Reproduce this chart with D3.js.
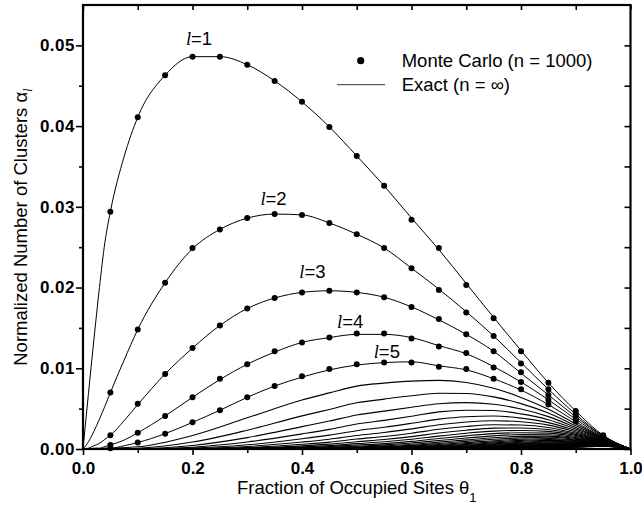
<!DOCTYPE html>
<html>
<head>
<meta charset="utf-8">
<script src="https://cdn.jsdelivr.net/npm/d3@7"></script>
<style>
  body { margin: 0; background: #fff; }
  svg { display: block; }
  .tick text { font-family: "Liberation Sans", Arial, sans-serif; font-weight: bold; font-size: 17px; letter-spacing: 0.5px; fill: #000; }
  .title { font-family: "Liberation Sans", Arial, sans-serif; font-size: 18.5px; fill: #000; }
  .script { font-family: "Liberation Serif", "Times New Roman", serif; font-style: italic; }
</style>
</head>
<body>
<svg id="chart"></svg>
<script>
// theta grid for l = 1..5 (exact curves)
var thetaFine = [0, 0.01, 0.02, 0.03, 0.04, 0.05, 0.075, 0.1, 0.15, 0.2, 0.25, 0.3, 0.35, 0.4, 0.45, 0.5,
                 0.55, 0.6, 0.65, 0.7, 0.75, 0.8, 0.85, 0.9, 0.95, 1];
var exactL1 = [0, 0.0069, 0.0136, 0.0200, 0.0256, 0.0294, 0.0362, 0.0411, 0.0463, 0.0486, 0.0486, 0.0476, 0.0456,
               0.0430, 0.0399, 0.0363, 0.0326, 0.0286, 0.0247, 0.0205, 0.0163, 0.0122, 0.0082, 0.0047, 0.0017, 0];
var exactL2 = [0, 0.0009, 0.0022, 0.0037, 0.0053, 0.0070, 0.0110, 0.0148, 0.0206, 0.0248, 0.0272, 0.0286, 0.0291,
               0.0290, 0.0280, 0.0266, 0.0249, 0.0224, 0.0198, 0.0170, 0.0140, 0.0107, 0.0074, 0.0043, 0.0016, 0];
var exactL3 = [0, 0.0001, 0.0004, 0.0007, 0.0012, 0.0017, 0.0035, 0.0055, 0.0093, 0.0125, 0.0153, 0.0174, 0.0187,
               0.0194, 0.0196, 0.0194, 0.0188, 0.0176, 0.0160, 0.0142, 0.0121, 0.0094, 0.0067, 0.0040, 0.0016, 0];
var exactL4 = [0, 0, 0.0001, 0.0001, 0.0003, 0.0005, 0.0011, 0.0020, 0.0041, 0.0064, 0.0086, 0.0105, 0.0120,
               0.0132, 0.0138, 0.0142, 0.0142, 0.0138, 0.0128, 0.0118, 0.0102, 0.0083, 0.0061, 0.0037, 0.0015, 0];
var exactL5 = [0, 0, 0, 0, 0.0001, 0.0001, 0.0004, 0.0008, 0.0019, 0.0033, 0.0048, 0.0064, 0.0078,
               0.0089, 0.0098, 0.0104, 0.0107, 0.0108, 0.0103, 0.0098, 0.0087, 0.0073, 0.0055, 0.0034, 0.0014, 0];

// theta grid for the unlabelled curves l = 6..40
var thetaCoarse = [0, 0.1, 0.2, 0.3, 0.4, 0.45, 0.5, 0.55, 0.6, 0.65, 0.7, 0.75, 0.8, 0.85, 0.9, 0.95, 1];
var exactL6to40 = [
  [0, 0.00027, 0.00168, 0.00386, 0.00607, 0.00695, 0.00779, 0.00816, 0.00841, 0.00850, 0.00824, 0.00753, 0.00639, 0.00492, 0.00312, 0.00139, 0],
  [0, 0.00010, 0.00086, 0.00233, 0.00410, 0.00490, 0.00572, 0.00618, 0.00660, 0.00690, 0.00688, 0.00646, 0.00562, 0.00445, 0.00288, 0.00133, 0],
  [0, 0.00004, 0.00044, 0.00141, 0.00277, 0.00346, 0.00421, 0.00469, 0.00517, 0.00560, 0.00574, 0.00555, 0.00495, 0.00401, 0.00267, 0.00128, 0],
  [0, 0.00001, 0.00022, 0.00086, 0.00187, 0.00243, 0.00309, 0.00355, 0.00405, 0.00460, 0.00480, 0.00476, 0.00435, 0.00363, 0.00247, 0.00123, 0],
  [0, 0, 0.00011, 0.00052, 0.00127, 0.00172, 0.00227, 0.00269, 0.00318, 0.00370, 0.00400, 0.00408, 0.00383, 0.00327, 0.00228, 0.00118, 0],
  [0, 0, 0.00006, 0.00031, 0.00086, 0.00121, 0.00167, 0.00204, 0.00249, 0.00300, 0.00335, 0.00350, 0.00337, 0.00296, 0.00211, 0.00113, 0],
  [0, 0, 0.00003, 0.00019, 0.00058, 0.00085, 0.00123, 0.00155, 0.00195, 0.00244, 0.00279, 0.00300, 0.00297, 0.00267, 0.00195, 0.00108, 0],
  [0, 0, 0.00001, 0.00011, 0.00039, 0.00060, 0.00090, 0.00117, 0.00153, 0.00198, 0.00233, 0.00258, 0.00261, 0.00241, 0.00181, 0.00104, 0],
  [0, 0, 0, 0.00007, 0.00026, 0.00042, 0.00066, 0.00089, 0.00120, 0.00160, 0.00195, 0.00221, 0.00230, 0.00218, 0.00167, 0.00100, 0],
  [0, 0, 0, 0.00004, 0.00018, 0.00030, 0.00049, 0.00067, 0.00094, 0.00130, 0.00163, 0.00190, 0.00202, 0.00197, 0.00154, 0.00096, 0],
  [0, 0, 0, 0.00003, 0.00012, 0.00021, 0.00036, 0.00051, 0.00074, 0.00105, 0.00136, 0.00163, 0.00178, 0.00177, 0.00143, 0.00092, 0],
  [0, 0, 0, 0.00002, 0.00008, 0.00015, 0.00026, 0.00039, 0.00058, 0.00085, 0.00113, 0.00140, 0.00156, 0.00160, 0.00132, 0.00088, 0],
  [0, 0, 0, 0.00001, 0.00006, 0.00010, 0.00019, 0.00029, 0.00045, 0.00069, 0.00095, 0.00120, 0.00138, 0.00145, 0.00122, 0.00085, 0],
  [0, 0, 0, 0, 0.00004, 0.00007, 0.00014, 0.00022, 0.00036, 0.00056, 0.00079, 0.00103, 0.00121, 0.00131, 0.00113, 0.00082, 0],
  [0, 0, 0, 0, 0.00003, 0.00005, 0.00010, 0.00017, 0.00028, 0.00045, 0.00066, 0.00088, 0.00107, 0.00118, 0.00105, 0.00078, 0],
  [0, 0, 0, 0, 0.00002, 0.00004, 0.00008, 0.00013, 0.00022, 0.00037, 0.00055, 0.00076, 0.00094, 0.00107, 0.00097, 0.00075, 0],
  [0, 0, 0, 0, 0.00001, 0.00003, 0.00006, 0.00010, 0.00017, 0.00030, 0.00046, 0.00065, 0.00083, 0.00096, 0.00090, 0.00072, 0],
  [0, 0, 0, 0, 0.00001, 0.00002, 0.00004, 0.00008, 0.00013, 0.00024, 0.00038, 0.00056, 0.00073, 0.00087, 0.00083, 0.00069, 0],
  [0, 0, 0, 0, 0, 0.00001, 0.00003, 0.00006, 0.00010, 0.00020, 0.00032, 0.00048, 0.00064, 0.00078, 0.00077, 0.00067, 0],
  [0, 0, 0, 0, 0, 0, 0.00002, 0.00004, 0.00008, 0.00016, 0.00027, 0.00041, 0.00056, 0.00071, 0.00071, 0.00064, 0],
  [0, 0, 0, 0, 0, 0, 0.00002, 0.00003, 0.00007, 0.00013, 0.00022, 0.00035, 0.00049, 0.00064, 0.00066, 0.00061, 0],
  [0, 0, 0, 0, 0, 0, 0.00001, 0.00002, 0.00005, 0.00010, 0.00019, 0.00030, 0.00044, 0.00058, 0.00061, 0.00059, 0],
  [0, 0, 0, 0, 0, 0, 0.00001, 0.00002, 0.00004, 0.00008, 0.00016, 0.00026, 0.00038, 0.00052, 0.00056, 0.00057, 0],
  [0, 0, 0, 0, 0, 0, 0.00001, 0.00001, 0.00003, 0.00007, 0.00013, 0.00022, 0.00034, 0.00047, 0.00052, 0.00054, 0],
  [0, 0, 0, 0, 0, 0, 0, 0.00001, 0.00002, 0.00005, 0.00011, 0.00019, 0.00030, 0.00043, 0.00048, 0.00052, 0],
  [0, 0, 0, 0, 0, 0, 0, 0.00001, 0.00002, 0.00004, 0.00009, 0.00016, 0.00026, 0.00038, 0.00045, 0.00050, 0],
  [0, 0, 0, 0, 0, 0, 0, 0, 0.00002, 0.00004, 0.00008, 0.00014, 0.00023, 0.00035, 0.00042, 0.00048, 0],
  [0, 0, 0, 0, 0, 0, 0, 0, 0.00001, 0.00003, 0.00006, 0.00012, 0.00020, 0.00031, 0.00039, 0.00046, 0],
  [0, 0, 0, 0, 0, 0, 0, 0, 0.00001, 0.00002, 0.00005, 0.00010, 0.00018, 0.00028, 0.00036, 0.00044, 0],
  [0, 0, 0, 0, 0, 0, 0, 0, 0.00001, 0.00002, 0.00004, 0.00009, 0.00016, 0.00026, 0.00033, 0.00042, 0],
  [0, 0, 0, 0, 0, 0, 0, 0, 0.00001, 0.00002, 0.00004, 0.00008, 0.00014, 0.00023, 0.00031, 0.00041, 0],
  [0, 0, 0, 0, 0, 0, 0, 0, 0, 0.00001, 0.00003, 0.00007, 0.00012, 0.00021, 0.00028, 0.00039, 0],
  [0, 0, 0, 0, 0, 0, 0, 0, 0, 0.00001, 0.00003, 0.00006, 0.00011, 0.00019, 0.00026, 0.00038, 0],
  [0, 0, 0, 0, 0, 0, 0, 0, 0, 0.00001, 0.00002, 0.00005, 0.00009, 0.00017, 0.00024, 0.00036, 0],
  [0, 0, 0, 0, 0, 0, 0, 0, 0, 0.00001, 0.00002, 0.00004, 0.00008, 0.00015, 0.00022, 0.00035, 0]
];

// Monte Carlo points
var mcTheta = [0.05, 0.1, 0.15, 0.2, 0.25, 0.3, 0.35, 0.4, 0.45, 0.5, 0.55, 0.6, 0.65, 0.7, 0.75, 0.8, 0.85, 0.9, 0.95];
var mcL1 = [0.0294, 0.0411, 0.0463, 0.0486, 0.0486, 0.0476, 0.0456, 0.0430, 0.0399, 0.0363, 0.0326, 0.0284, 0.0249, 0.0203, 0.0162, 0.0121, 0.0082, 0.0047, 0.0017];
var mcL2 = [0.0070, 0.0148, 0.0206, 0.0249, 0.0272, 0.0286, 0.0291, 0.0290, 0.0280, 0.0266, 0.0249, 0.0224, 0.0197, 0.0169, 0.0140, 0.0106, 0.0074, 0.0043, 0.0016];
var mcL3 = [0.0017, 0.0056, 0.0093, 0.0125, 0.0153, 0.0174, 0.0187, 0.0194, 0.0196, 0.0194, 0.0188, 0.0176, 0.0161, 0.0142, 0.0121, 0.0095, 0.0067, 0.0040, 0.0016];
var mcL4 = [0.0005, 0.0020, 0.0041, 0.0064, 0.0087, 0.0105, 0.0121, 0.0132, 0.0138, 0.0143, 0.0143, 0.0137, 0.0127, 0.0119, 0.0101, 0.0083, 0.0061, 0.0037, 0.0015];
var mcL5 = [0.0001, 0.0008, 0.0019, 0.0033, 0.0048, 0.0064, 0.0078, 0.0090, 0.0099, 0.0105, 0.0107, 0.0107, 0.0102, 0.0099, 0.0087, 0.0074, 0.0055, 0.0034, 0.0014];

var xTickValues = [0, 0.1, 0.2, 0.3, 0.4, 0.5, 0.6, 0.7, 0.8, 0.9, 1.0];
var xTickLabels = {"0": "0.0", "0.2": "0.2", "0.4": "0.4", "0.6": "0.6", "0.8": "0.8", "1": "1.0"};
var yTickValues = [0, 0.005, 0.01, 0.015, 0.02, 0.025, 0.03, 0.035, 0.04, 0.045, 0.05];
var yTickLabels = {"0": "0.00", "0.01": "0.01", "0.02": "0.02", "0.03": "0.03", "0.04": "0.04", "0.05": "0.05"};

// curve labels: l value, theta / alpha where the text starts
var labelL = ["1", "2", "3", "4", "5"];
var labelTheta = [0.188, 0.324, 0.395, 0.464, 0.531];
var labelAlpha = [0.0501, 0.0302, 0.0212, 0.0150, 0.0113];

var width = 642, height = 510;
var svg = d3.select("#chart").attr("width", width).attr("height", height);

var x = d3.scaleLinear().domain([0, 1]).range([83, 630.5]);
var y = d3.scaleLinear().domain([0, 0.055]).range([449, 5]);

var line = d3.line()
  .x(function(d) { return x(d[0]); })
  .y(function(d) { return y(d[1]); })
  .curve(d3.curveMonotoneX);

var curves = [exactL1, exactL2, exactL3, exactL4, exactL5].map(function(v) {
  return thetaFine.map(function(t, i) { return [t, v[i]]; });
});
exactL6to40.forEach(function(v) {
  curves.push(thetaCoarse.map(function(t, i) { return [t, v[i]]; }));
});

svg.append("g").selectAll("path")
  .data(curves)
  .enter().append("path")
  .attr("d", line)
  .attr("fill", "none")
  .attr("stroke", "#000")
  .attr("stroke-width", function(d, i) { return i < 5 ? 1 : 1.1; });

var mcAll = [mcL1, mcL2, mcL3, mcL4, mcL5];
mcAll.forEach(function(v) {
  svg.append("g").selectAll("circle")
    .data(mcTheta.map(function(t, i) { return [t, v[i]]; }))
    .enter().append("circle")
    .attr("cx", function(d) { return x(d[0]); })
    .attr("cy", function(d) { return y(d[1]); })
    .attr("r", 3)
    .attr("fill", "#000");
});

// axes
function fmt(map) { return function(d) { var k = String(+d.toFixed(3)); return map[k] || ""; }; }

var gx = svg.append("g").attr("transform", "translate(0,449)")
  .call(d3.axisBottom(x).tickValues(xTickValues).tickSize(6).tickPadding(7).tickFormat(fmt(xTickLabels)));
gx.selectAll(".tick line").attr("y2", function(d) { return xTickLabels[String(+d.toFixed(3))] ? 6 : 4; }).attr("stroke-width", 1.6);
gx.selectAll(".tick text").style("letter-spacing", "0px");

var gxt = svg.append("g").attr("transform", "translate(0,5)")
  .call(d3.axisTop(x).tickValues(xTickValues).tickSize(-5).tickFormat(""));
gxt.selectAll(".tick line").attr("stroke-width", 1.6);

var gy = svg.append("g").attr("transform", "translate(83,0)")
  .call(d3.axisLeft(y).tickValues(yTickValues).tickSize(7).tickPadding(1).tickFormat(fmt(yTickLabels)));
gy.selectAll(".tick line").attr("x2", function(d) { return yTickLabels[String(+d.toFixed(3))] ? -7 : -4; }).attr("stroke-width", 1.6);

var gyr = svg.append("g").attr("transform", "translate(630.5,0)")
  .call(d3.axisRight(y).tickValues(yTickValues).tickSize(-6).tickFormat(""));
gyr.selectAll(".tick line").attr("stroke-width", 1.6);

svg.selectAll(".domain").remove();

svg.append("rect")
  .attr("x", x(0)).attr("y", y(0.055))
  .attr("width", x(1) - x(0)).attr("height", y(0) - y(0.055))
  .attr("fill", "none").attr("stroke", "#000").attr("stroke-width", 2.2);

// axis titles
var xt = svg.append("text").attr("class", "title")
  .attr("x", (x(0) + x(1)) / 2).attr("y", 494).attr("text-anchor", "middle");
xt.append("tspan").text("Fraction of Occupied Sites \u03B8");
xt.append("tspan").attr("font-size", "13px").attr("dy", 8).text("1");

var yt = svg.append("text").attr("class", "title")
  .attr("transform", "translate(27," + ((y(0) + y(0.055)) / 2) + ") rotate(-90)")
  .attr("text-anchor", "middle");
yt.append("tspan").text("Normalized Number of Clusters \u03B1");
yt.append("tspan").attr("class", "script").attr("font-size", "13px").attr("dy", 5).text("l");

// curve labels
labelL.forEach(function(l, i) {
  var t = svg.append("text").attr("class", "title")
    .attr("x", x(labelTheta[i])).attr("y", y(labelAlpha[i]));
  t.append("tspan").attr("class", "script").text("l");
  t.append("tspan").text("=" + l);
});

// legend
svg.append("circle").attr("cx", 360.7).attr("cy", 60.7).attr("r", 3.6).attr("fill", "#000");
svg.append("text").attr("class", "title").attr("x", 401.7).attr("y", 67).text("Monte Carlo (n = 1000)");
svg.append("line").attr("x1", 337).attr("x2", 385).attr("y1", 84.7).attr("y2", 84.7)
  .attr("stroke", "#000").attr("stroke-width", 0.8);
svg.append("text").attr("class", "title").attr("x", 401.7).attr("y", 91).text("Exact (n = \u221E)");
</script>
</body>
</html>
